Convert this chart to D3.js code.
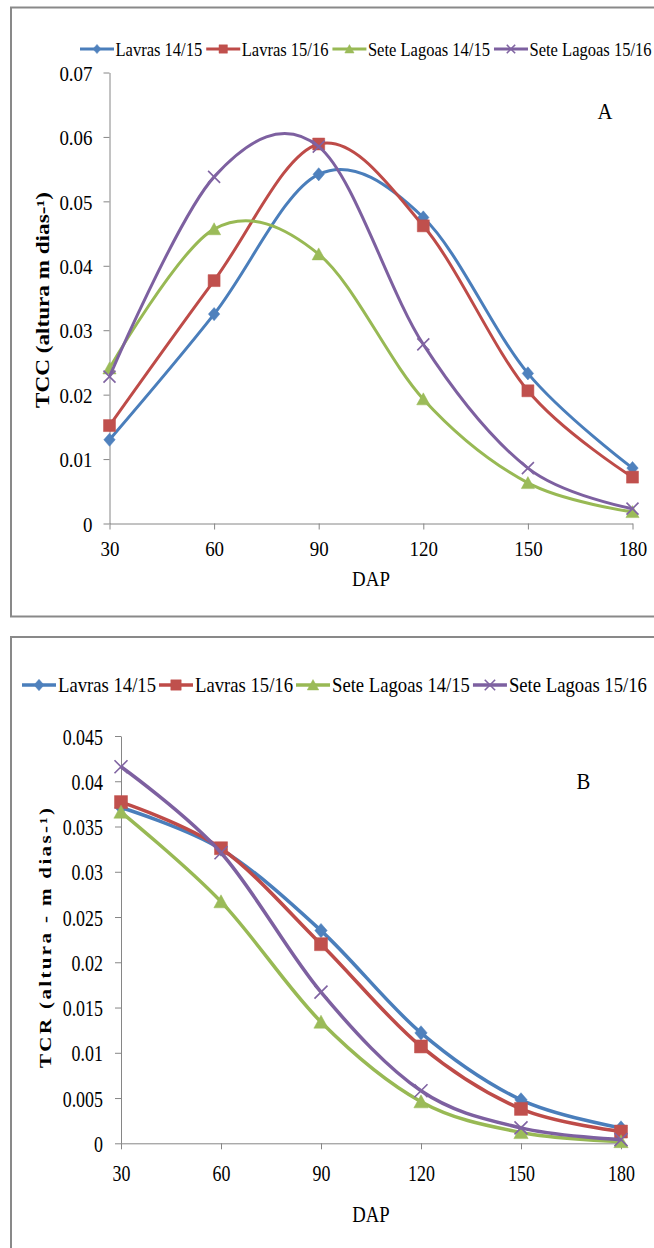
<!DOCTYPE html>
<html>
<head>
<meta charset="utf-8">
<script src="https://cdn.jsdelivr.net/npm/d3@7"></script>
<style>
  html, body { margin: 0; padding: 0; background: #fff; }
  svg { display: block; }
  text { font-family: "Liberation Serif", "Times New Roman", serif; fill: #000; }
</style>
</head>
<body>
<svg id="chart" width="654" height="1248"></svg>
<script>
// Days after planting (DAP)
const dap = [30, 60, 90, 120, 150, 180];
const seriesNames = ["Lavras 14/15", "Lavras 15/16", "Sete Lagoas 14/15", "Sete Lagoas 15/16"];

// Panel A: TCC (altura m dias-1)
const tccLavras1415 = [0.0130, 0.0325, 0.0542, 0.0475, 0.0233, 0.0086];
const tccLavras1516 = [0.0152, 0.0377, 0.0589, 0.0462, 0.0206, 0.0072];
const tccSete1415   = [0.0241, 0.0457, 0.0418, 0.0193, 0.0063, 0.0018];
const tccSete1516   = [0.0228, 0.0538, 0.0585, 0.0278, 0.0086, 0.0023];
const tccTicks = [0, 0.01, 0.02, 0.03, 0.04, 0.05, 0.06, 0.07];
const tccTickLabels = ["0", "0.01", "0.02", "0.03", "0.04", "0.05", "0.06", "0.07"];

// Panel B: TCR (altura - m dias-1)
const tcrLavras1415 = [0.0371, 0.0325, 0.0235, 0.0122, 0.0048, 0.0017];
const tcrLavras1516 = [0.0377, 0.0326, 0.0220, 0.0107, 0.0038, 0.0013];
const tcrSete1415   = [0.0366, 0.0267, 0.0134, 0.0046, 0.0012, 0.0002];
const tcrSete1516   = [0.0416, 0.0321, 0.0167, 0.0058, 0.0017, 0.0004];
const tcrTicks = [0, 0.005, 0.01, 0.015, 0.02, 0.025, 0.03, 0.035, 0.04, 0.045];
const tcrTickLabels = ["0", "0.005", "0.01", "0.015", "0.02", "0.025", "0.03", "0.035", "0.04", "0.045"];

const xTickLabels = ["30", "60", "90", "120", "150", "180"];

// series styling: line colour, marker colour, marker shape
const styles = [
  { line: "#4A7EBB", fill: "#4F81BD", shape: "diamond" },
  { line: "#BE4B48", fill: "#C0504D", shape: "square" },
  { line: "#98B954", fill: "#9BBB59", shape: "triangle" },
  { line: "#7D60A0", fill: "#8064A2", shape: "cross" }
];

const svg = d3.select("#chart");
const AXIS = "#868686";
const FRAME = "#898989";
const SERIF = "Liberation Serif, Times New Roman, serif";

function markerPath(shape, r) {
  const p = d3.path();
  if (shape === "diamond") {
    p.moveTo(0, -r * 1.1); p.lineTo(r * 0.95, 0); p.lineTo(0, r * 1.1); p.lineTo(-r * 0.95, 0); p.closePath();
  } else if (shape === "square") {
    p.rect(-r, -r, 2 * r, 2 * r);
  } else if (shape === "triangle") {
    p.moveTo(0, -r * 1.05); p.lineTo(r * 1.1, r * 0.95); p.lineTo(-r * 1.1, r * 0.95); p.closePath();
  } else {
    p.moveTo(-r, -r); p.lineTo(r, r); p.moveTo(r, -r); p.lineTo(-r, r);
  }
  return p.toString();
}

function drawMarker(g, style, x, y, r) {
  const m = g.append("path")
    .attr("d", markerPath(style.shape, r))
    .attr("transform", `translate(${x},${y})`);
  if (style.shape === "cross") {
    m.attr("fill", "none").attr("stroke", style.fill).attr("stroke-width", 1.6);
  } else {
    m.attr("fill", style.fill).attr("stroke", style.fill).attr("stroke-width", 0.5);
  }
}

// text squeezed horizontally (narrow serif look)
function sText(parent, x, y, str, opts) {
  const g = parent.append("g").attr("transform", `translate(${x},${y}) scale(${opts.sx},1)` + (opts.rotate ? ` rotate(${opts.rotate})` : ""));
  const t = g.append("text")
    .attr("font-family", SERIF)
    .attr("font-size", opts.size)
    .attr("text-anchor", opts.anchor || "start")
    .attr("dy", "0.35em")
    .text(str);
  if (opts.bold) t.attr("font-weight", "bold");
  if (opts.length) t.attr("textLength", opts.length).attr("lengthAdjust", opts.adjust || "spacingAndGlyphs");
  return t;
}

function panel(cfg) {
  const g = svg.append("g");

  // outer frame
  g.append("rect")
    .attr("x", cfg.frame.x).attr("y", cfg.frame.y)
    .attr("width", cfg.frame.w).attr("height", cfg.frame.h)
    .attr("fill", "none").attr("stroke", FRAME).attr("stroke-width", 2);

  const x = d3.scaleLinear().domain([30, 180]).range(cfg.xRange);
  const y = d3.scaleLinear().domain([0, cfg.ticks[cfg.ticks.length - 1]]).range(cfg.yRange);

  // y axis
  const yAxis = g.append("g").attr("transform", `translate(${cfg.xRange[0]},0)`)
    .call(d3.axisLeft(y).tickValues(cfg.ticks).tickSize(6).tickSizeOuter(0)
      .tickFormat((d, i) => cfg.tickLabels[i]));
  yAxis.attr("font-family", SERIF);
  yAxis.select(".domain").attr("stroke", AXIS);
  yAxis.selectAll(".tick line").attr("stroke", AXIS);
  yAxis.selectAll(".tick text")
    .attr("x", 0).attr("dy", "0.35em")
    .attr("transform", `translate(${-cfg.yLabelGap},0) scale(${cfg.tickSx},1)`)
    .attr("font-size", cfg.tickSize)
    .attr("font-family", SERIF)
    .attr("fill", "#000");

  // x axis
  const xAxis = g.append("g").attr("transform", `translate(0,${cfg.yRange[0]})`)
    .call(d3.axisBottom(x).tickValues(dap).tickSize(6).tickSizeOuter(0)
      .tickFormat((d, i) => xTickLabels[i]));
  xAxis.attr("font-family", SERIF);
  xAxis.select(".domain").attr("stroke", AXIS);
  xAxis.selectAll(".tick line").attr("stroke", AXIS);
  xAxis.selectAll(".tick text")
    .attr("y", 0).attr("dy", "0.35em")
    .attr("transform", `translate(0,${cfg.xLabelGap}) scale(${cfg.tickSx},1)`)
    .attr("font-size", cfg.tickSize)
    .attr("font-family", SERIF)
    .attr("fill", "#000");

  // axis titles
  sText(g, (cfg.xRange[0] + cfg.xRange[1]) / 2, cfg.yRange[0] + cfg.dapGap, "DAP",
    { size: cfg.titleSize, sx: cfg.tickSx, anchor: "middle" });
  sText(g, cfg.yTitle.x, cfg.yTitle.y, cfg.yTitle.text,
    { size: cfg.yTitle.size, sx: cfg.tickSx, anchor: "middle", rotate: -90, bold: true,
      length: cfg.yTitle.length, adjust: cfg.yTitle.adjust });

  // panel letter
  sText(g, cfg.letter.x, cfg.letter.y, cfg.letter.text,
    { size: cfg.letter.size, sx: 0.9, anchor: "middle" });

  // smoothed lines
  const line = d3.line()
    .x((d, i) => x(dap[i]))
    .y(d => y(d))
    .curve(d3.curveCardinal.tension(0));

  cfg.series.forEach((vals, si) => {
    const st = styles[si];
    g.append("path").datum(vals)
      .attr("d", line)
      .attr("fill", "none")
      .attr("stroke", st.line)
      .attr("stroke-width", cfg.lineWidth)
      .attr("stroke-linejoin", "round");
    const mg = g.append("g");
    vals.forEach((v, i) => drawMarker(mg, st, x(dap[i]), y(v), cfg.markerR));
  });

  // legend
  const lg = g.append("g");
  let lx = cfg.legend.x;
  seriesNames.forEach((name, si) => {
    const st = styles[si];
    lg.append("line")
      .attr("x1", lx).attr("x2", lx + cfg.legend.icon)
      .attr("y1", cfg.legend.y).attr("y2", cfg.legend.y)
      .attr("stroke", st.line).attr("stroke-width", cfg.lineWidth);
    drawMarker(lg, st, lx + cfg.legend.icon / 2, cfg.legend.y, cfg.legend.markerR);
    lx += cfg.legend.icon + cfg.legend.textGap;
    const t = sText(lg, lx, cfg.legend.y, name, { size: cfg.legend.size, sx: cfg.legend.sx });
    lx += t.node().getComputedTextLength() * cfg.legend.sx + cfg.legend.itemGap;
  });
}

panel({
  frame: { x: 11, y: 7.5, w: 700, h: 609 },
  xRange: [109.5, 632.5],
  yRange: [523.5, 72.5],
  ticks: tccTicks,
  tickLabels: tccTickLabels,
  tickSize: 22, tickSx: 0.86,
  yLabelGap: 17, xLabelGap: 25, dapGap: 55, titleSize: 22,
  yTitle: { x: 43, y: 300, text: "TCC (altura m dias-¹)", size: 21, length: 216 },
  letter: { x: 605, y: 111, text: "A", size: 23 },
  lineWidth: 3, markerR: 6,
  legend: { x: 80, y: 49, icon: 34, textGap: 1.5, itemGap: 4, size: 19, sx: 0.87, markerR: 4.2 },
  series: [tccLavras1415, tccLavras1516, tccSete1415, tccSete1516]
});

panel({
  frame: { x: 11, y: 637, w: 700, h: 700 },
  xRange: [121, 621],
  yRange: [1143.3, 736],
  ticks: tcrTicks,
  tickLabels: tcrTickLabels,
  tickSize: 23, tickSx: 0.78,
  yLabelGap: 18, xLabelGap: 30, dapGap: 70, titleSize: 24,
  yTitle: { x: 45, y: 938, text: "TCR (altura - m dias-¹)", size: 21, length: 260, adjust: "spacing" },
  letter: { x: 583.5, y: 781, text: "B", size: 23 },
  lineWidth: 3.5, markerR: 6.5,
  legend: { x: 22, y: 685, icon: 34, textGap: 2, itemGap: 3, size: 21, sx: 0.89, markerR: 5.2 },
  series: [tcrLavras1415, tcrLavras1516, tcrSete1415, tcrSete1516]
});
</script>
</body>
</html>
